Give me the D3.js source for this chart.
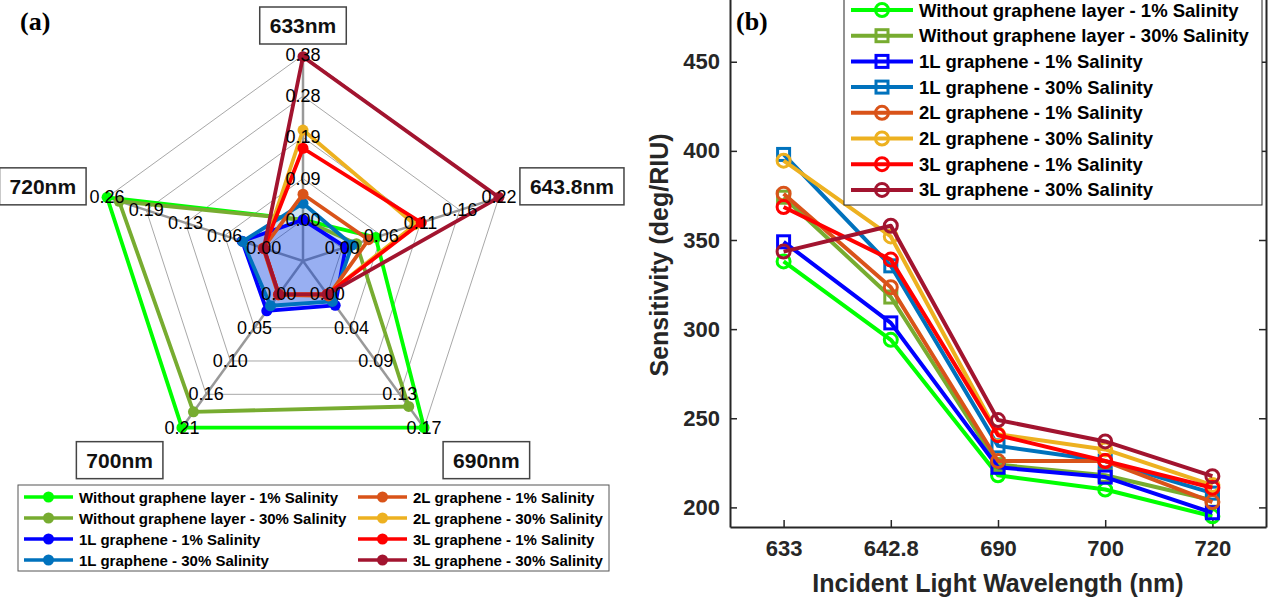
<!DOCTYPE html>
<html>
<head>
<meta charset="utf-8">
<script src="https://cdn.jsdelivr.net/npm/d3@7"></script>
<style>
  body { margin: 0; background: #fff; }
  svg { display: block; }
</style>
</head>
<body>
<svg width="1268" height="600"></svg>
<script>
width = 1268
height = 600

// shared series
series = [
  "Without graphene layer - 1% Salinity",
  "Without graphene layer - 30% Salinity",
  "1L graphene - 1% Salinity",
  "1L graphene - 30% Salinity",
  "2L graphene - 1% Salinity",
  "2L graphene - 30% Salinity",
  "3L graphene - 1% Salinity",
  "3L graphene - 30% Salinity"
]
colors = ["#00ff00", "#77ac30", "#0000ff", "#0072bd", "#d95319", "#edb120", "#ff0000", "#a2142f"]
markers = ["circle", "square", "square", "square", "circle", "circle", "circle", "circle"]

// panel (a) - radar
radarAxes = ["633nm", "643.8nm", "690nm", "700nm", "720nm"]
radarMax = [0.38, 0.22, 0.17, 0.21, 0.26]
radarTicks = [
  ["0.00", "0.09", "0.19", "0.28", "0.38"],
  ["0.00", "0.06", "0.11", "0.16", "0.22"],
  ["0.00", "0.04", "0.09", "0.13", "0.17"],
  ["0.00", "0.05", "0.10", "0.16", "0.21"],
  ["0.00", "0.06", "0.13", "0.19", "0.26"]
]
radarValues = [
  [0.000, 0.047, 0.170, 0.210, 0.260],
  [0.000, 0.020, 0.143, 0.185, 0.240],
  [0.000, 0.005, 0.014, 0.026, 0.036],
  [0.038, 0.014, 0.009, 0.018, 0.035],
  [0.059, 0.037, 0.002, 0.001, 0.001],
  [0.207, 0.102, 0.000, 0.000, 0.000],
  [0.165, 0.111, 0.000, 0.000, 0.000],
  [0.376, 0.220, 0.000, 0.000, 0.000]
]
radarFill = [0, 0, 0.25, 0.2, 0, 0, 0, 0]

// panel (b) - line chart
wavelengths = ["633", "642.8", "690", "700", "720"]
sensitivity = [
  [338, 294, 218, 210, 195],
  [374, 318, 224, 218, 204],
  [349, 303.5, 222.5, 217, 197],
  [398, 335.5, 234.5, 226, 208],
  [376, 323.5, 226, 226, 203],
  [394.5, 352, 241, 232.5, 212.5],
  [368.5, 339, 240.5, 226, 211],
  [343.5, 358, 249, 237, 217.5]
]
yTicks = [200, 250, 300, 350, 400, 450]

sans = "'Liberation Sans', Arial, Helvetica, sans-serif"
serif = "'Liberation Serif', 'Times New Roman', serif"

function drawMarker(g, type, x, y, color, filled) {
  if (type === "circle") {
    g.append("circle")
        .attr("cx", x).attr("cy", y).attr("r", filled ? 5.5 : 6.5)
        .attr("fill", filled ? color : "none")
        .attr("stroke", color)
        .attr("stroke-width", filled ? 0 : 3);
  } else {
    g.append("rect")
        .attr("x", x - 6).attr("y", y - 6)
        .attr("width", 12).attr("height", 12)
        .attr("fill", filled ? color : "none")
        .attr("stroke", color)
        .attr("stroke-width", 3);
  }
}

radar = function(svg) {
  const cx = 303, cy = 261, r0 = 41.2, R = 206;
  const n = radarAxes.length;
  const angle = i => -Math.PI / 2 + i * 2 * Math.PI / n;
  const rScales = radarMax.map(m => d3.scaleLinear().domain([0, m]).range([r0, R]));
  const pt = (i, r) => [cx + r * Math.cos(angle(i)), cy + r * Math.sin(angle(i))];
  const closed = d3.line().curve(d3.curveLinearClosed);

  const g = svg.append("g");

  // rings
  g.append("g").selectAll("path")
    .data(d3.range(5))
    .join("path")
      .attr("d", k => closed(d3.range(n).map(i => pt(i, rScales[i](radarMax[i] * k / 4)))))
      .attr("fill", "none")
      .attr("stroke", "#a8a8a8")
      .attr("stroke-width", 1);

  // spokes
  g.append("g").selectAll("line")
    .data(d3.range(n))
    .join("line")
      .attr("x1", cx).attr("y1", cy)
      .attr("x2", i => pt(i, R)[0])
      .attr("y2", i => pt(i, R)[1])
      .attr("stroke", "#999")
      .attr("stroke-width", 2.5);

  // fills
  g.append("g").selectAll("path")
    .data(radarValues.map((v, s) => ({v, s})).filter(d => radarFill[d.s] > 0))
    .join("path")
      .attr("d", d => closed(d.v.map((v, i) => pt(i, rScales[i](v)))))
      .attr("fill", d => colors[d.s])
      .attr("fill-opacity", d => radarFill[d.s])
      .attr("stroke", "none");

  // series
  radarValues.forEach((vals, s) => {
    const pts = vals.map((v, i) => pt(i, rScales[i](v)));
    const sg = g.append("g");
    sg.append("path")
        .attr("d", closed(pts))
        .attr("fill", "none")
        .attr("stroke", colors[s])
        .attr("stroke-width", 3.8)
        .attr("stroke-linejoin", "round");
    pts.forEach(p => drawMarker(sg, "circle", p[0], p[1], colors[s], true));
  });

  // tick labels
  radarTicks.forEach((ticks, i) => {
    g.append("g").selectAll("text")
      .data(ticks)
      .join("text")
        .attr("x", (t, k) => pt(i, rScales[i](radarMax[i] * k / 4))[0])
        .attr("y", (t, k) => pt(i, rScales[i](radarMax[i] * k / 4))[1])
        .attr("text-anchor", "middle")
        .attr("dominant-baseline", "central")
        .attr("font-family", sans)
        .attr("font-size", 18)
        .attr("fill", "#000")
        .text(t => t);
  });

  // axis name boxes
  radarAxes.forEach((name, i) => {
    const [vx, vy] = pt(i, R);
    const dx = Math.cos(angle(i)), dy = Math.sin(angle(i));
    const lg = g.append("g");
    const t = lg.append("text")
        .attr("font-family", sans)
        .attr("font-weight", "bold")
        .attr("font-size", 21)
        .attr("text-anchor", "middle")
        .attr("dominant-baseline", "central")
        .attr("fill", "#111")
        .text(name);
    const w = t.node().getBBox().width + 20, h = 37;
    let bx, by;
    if (Math.abs(dx) < 0.1) {
      bx = vx - w / 2; by = vy - 11 - h;
    } else if (dy > 0.5) {
      bx = dx > 0 ? vx + 19 : vx - 19 - w; by = vy + 14;
    } else {
      bx = dx > 0 ? vx + 21 : vx - 21 - w; by = vy - 11 - h / 2;
    }
    lg.insert("rect", "text")
        .attr("x", bx).attr("y", by).attr("width", w).attr("height", h)
        .attr("fill", "#fff").attr("stroke", "#444").attr("stroke-width", 1.5);
    t.attr("x", bx + w / 2).attr("y", by + h / 2);
  });

  // legend
  const leg = svg.append("g");
  leg.append("rect")
      .attr("x", 18).attr("y", 485).attr("width", 591).attr("height", 86)
      .attr("fill", "#fff").attr("stroke", "#555").attr("stroke-width", 1);
  series.forEach((name, s) => {
    const x0 = s < 4 ? 24 : 358, y0 = 497 + (s % 4) * 21;
    const it = leg.append("g");
    it.append("line")
        .attr("x1", x0).attr("x2", x0 + 49).attr("y1", y0).attr("y2", y0)
        .attr("stroke", colors[s]).attr("stroke-width", 3.5);
    drawMarker(it, "circle", x0 + 24.5, y0, colors[s], true);
    it.append("text")
        .attr("x", x0 + 55).attr("y", y0)
        .attr("dominant-baseline", "central")
        .attr("font-family", sans).attr("font-weight", "bold").attr("font-size", 15)
        .attr("fill", "#000")
        .text(name);
  });

  svg.append("text")
      .attr("x", 20).attr("y", 21)
      .attr("dominant-baseline", "central")
      .attr("font-family", serif).attr("font-weight", "bold").attr("font-size", 26)
      .text("(a)");
}

lineChart = function(svg) {
  const x = d3.scalePoint().domain(wavelengths).range([730, 1266]).padding(0.5);
  const y = d3.scaleLinear().domain([189, 488]).range([527, -6]);
  const axisColor = "#262626";

  const g = svg.append("g");

  const styleAxis = a => {
    a.selectAll(".domain").attr("stroke", axisColor).attr("stroke-width", 2);
    a.selectAll(".tick line").attr("stroke", axisColor).attr("stroke-width", 1.5);
    a.selectAll("text")
        .attr("font-family", sans).attr("font-weight", "bold").attr("font-size", 22)
        .attr("fill", axisColor);
  };

  g.append("g")
      .attr("transform", "translate(730,0)")
      .call(d3.axisLeft(y).tickValues(yTicks).tickSizeInner(-7).tickSizeOuter(0).tickPadding(10))
      .call(styleAxis);
  g.append("g")
      .attr("transform", "translate(1266,0)")
      .call(d3.axisRight(y).tickValues(yTicks).tickSizeInner(-7).tickSizeOuter(0).tickFormat(""))
      .call(styleAxis);
  g.append("g")
      .attr("transform", "translate(0,527)")
      .call(d3.axisBottom(x).tickSizeInner(-7).tickSizeOuter(0).tickPadding(13))
      .call(styleAxis);

  const line = d3.line().x((d, i) => x(wavelengths[i])).y(d => y(d));
  sensitivity.forEach((vals, s) => {
    const sg = g.append("g");
    sg.append("path")
        .attr("d", line(vals))
        .attr("fill", "none")
        .attr("stroke", colors[s])
        .attr("stroke-width", 4)
        .attr("stroke-linejoin", "round");
    vals.forEach((v, i) => drawMarker(sg, markers[s], x(wavelengths[i]), y(v), colors[s], false));
  });

  g.append("text")
      .attr("transform", "translate(659,255) rotate(-90)")
      .attr("text-anchor", "middle").attr("dominant-baseline", "central")
      .attr("font-family", sans).attr("font-weight", "bold").attr("font-size", 25)
      .attr("fill", axisColor)
      .text("Sensitivity (deg/RIU)");
  g.append("text")
      .attr("x", 998).attr("y", 583)
      .attr("text-anchor", "middle").attr("dominant-baseline", "central")
      .attr("font-family", sans).attr("font-weight", "bold").attr("font-size", 25)
      .attr("fill", axisColor)
      .text("Incident Light Wavelength (nm)");

  // legend
  const leg = svg.append("g");
  leg.append("rect")
      .attr("x", 844).attr("y", -3).attr("width", 418).attr("height", 208)
      .attr("fill", "#fff").attr("stroke", axisColor).attr("stroke-width", 1);
  series.forEach((name, s) => {
    const y0 = 10 + s * 25.7;
    const it = leg.append("g");
    it.append("line")
        .attr("x1", 851).attr("x2", 913).attr("y1", y0).attr("y2", y0)
        .attr("stroke", colors[s]).attr("stroke-width", 4);
    drawMarker(it, markers[s], 882, y0, colors[s], false);
    it.append("text")
        .attr("x", 919).attr("y", y0)
        .attr("dominant-baseline", "central")
        .attr("font-family", sans).attr("font-weight", "bold").attr("font-size", 18.5)
        .attr("fill", "#000")
        .text(name);
  });

  svg.append("text")
      .attr("x", 736).attr("y", 21)
      .attr("dominant-baseline", "central")
      .attr("font-family", serif).attr("font-weight", "bold").attr("font-size", 26)
      .text("(b)");
}

chart = function() {
  const svg = d3.select("svg")
      .attr("viewBox", [0, 0, width, height]);
  svg.append("rect").attr("width", width).attr("height", height).attr("fill", "#fff");
  radar(svg);
  lineChart(svg);
  return svg.node();
}

chart()
</script>
</body>
</html>
